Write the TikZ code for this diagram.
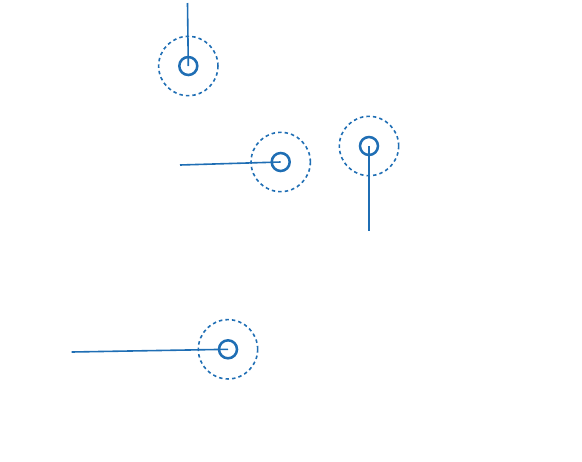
\documentclass[tikz,border=0pt]{standalone}
\usepackage{tikz}

\definecolor{markblue}{RGB}{31,110,180}
\tikzset{every picture/.style={line width=0.75pt}}
\tikzset{
  ring/.style={circle, draw=markblue, line width=1.9pt, inner sep=0pt, minimum size=13.5pt},
  halo/.style={circle, draw=markblue, line width=1.2pt, dash pattern={on 2.6pt off 2.3pt}, inner sep=0pt, minimum size=44.5pt},
  stem/.style={draw=markblue, line width=1.2pt}
}

\begin{document}
\begin{tikzpicture}[x=0.75pt,y=0.75pt,yscale=-1,xscale=1]
\useasboundingbox (0,0) rectangle (582,461);

%Shape: Circle [top]
\node [halo] (h1) at (188.3,66) {};
\node [ring] (r1) at (188.3,66) {};
\coordinate (t1) at (187.5,3);
%Straight Lines
\draw [stem] (r1.center) -- (t1);

%Shape: Circle [middle]
\node [halo] (h2) at (280.7,162) {};
\node [ring] (r2) at (280.7,162) {};
\coordinate (t2) at (180,165);
%Straight Lines
\draw [stem] (r2.center) -- (t2);

%Shape: Circle [right]
\node [halo] (h3) at (369,146) {};
\node [ring] (r3) at (369,146) {};
\coordinate (t3) at (369,231);
%Straight Lines
\draw [stem] (r3.center) -- (t3);

%Shape: Circle [bottom]
\node [halo] (h4) at (228,349.3) {};
\node [ring] (r4) at (228,349.3) {};
\coordinate (t4) at (71.7,352);
%Straight Lines
\draw [stem] (r4.center) -- (t4);

\end{tikzpicture}
\end{document}
